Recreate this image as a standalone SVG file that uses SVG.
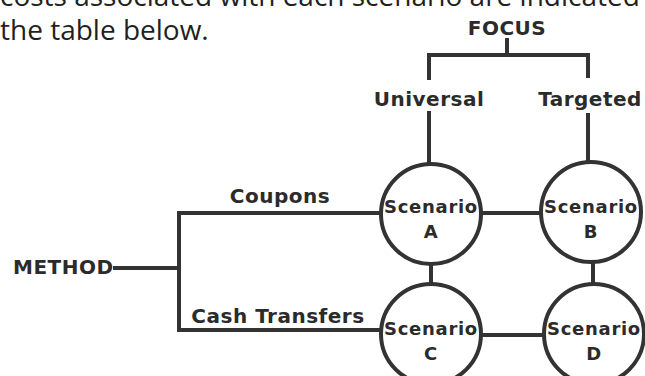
<svg xmlns="http://www.w3.org/2000/svg" width="645" height="376" viewBox="0 0 645 376">
<style>
.body{font-family:"Open Sans","Liberation Sans",sans-serif;font-size:28px;fill:#231f20}
.lbl{font-family:"DejaVu Sans","Liberation Sans",sans-serif;font-weight:bold;font-size:20px;letter-spacing:0.5px;fill:#2b2b2b}
.sc{font-family:"DejaVu Sans","Liberation Sans",sans-serif;font-weight:bold;font-size:18px;letter-spacing:0.7px;fill:#2b2b2b;text-anchor:middle}
.ln{fill:none;stroke:#333333;stroke-width:4;stroke-linecap:butt;stroke-linejoin:miter}
.c{fill:#ffffff;stroke:#333333;stroke-width:4}
</style>
<rect width="645" height="376" fill="#ffffff"/>
<text class="body" x="0" y="6">costs associated with each scenario are indicated</text>
<text class="body" x="0" y="40">the table below.</text>
<g id="connectors">
<polyline class="ln" points="429,80 429,55 588,55 588,78"/>
<line class="ln" x1="507" y1="38" x2="507" y2="55"/>
<line class="ln" x1="429" y1="111" x2="429" y2="164"/>
<line class="ln" x1="588" y1="113" x2="588" y2="162"/>
<line class="ln" x1="113" y1="268" x2="179" y2="268"/>
<polyline class="ln" points="380,213 179,213 179,330 380,330"/>
<line class="ln" x1="481" y1="213" x2="541" y2="213"/>
<line class="ln" x1="481" y1="335" x2="544" y2="335"/>
<line class="ln" x1="431" y1="263" x2="431" y2="284"/>
<line class="ln" x1="593" y1="262" x2="593" y2="284"/>
</g>
<g id="focus"><text class="lbl" x="507" y="35" text-anchor="middle">FOCUS</text></g>
<g id="universal"><text class="lbl" x="429" y="106" text-anchor="middle">Universal</text></g>
<g id="targeted"><text class="lbl" x="590" y="106" text-anchor="middle">Targeted</text></g>
<g id="method"><text class="lbl" x="13" y="274">METHOD</text></g>
<g id="coupons"><text class="lbl" x="280" y="203" text-anchor="middle">Coupons</text></g>
<g id="cash"><text class="lbl" x="278" y="323" text-anchor="middle">Cash Transfers</text></g>
<g id="scenarioA"><circle class="c" cx="431" cy="214" r="50"/><text class="sc" x="431" y="213">Scenario</text><text class="sc" x="431" y="238">A</text></g>
<g id="scenarioB"><circle class="c" cx="591" cy="212" r="50"/><text class="sc" x="591" y="213">Scenario</text><text class="sc" x="591" y="238">B</text></g>
<g id="scenarioC"><circle class="c" cx="431" cy="334" r="50"/><text class="sc" x="431" y="335">Scenario</text><text class="sc" x="431" y="360">C</text></g>
<g id="scenarioD"><circle class="c" cx="594" cy="334" r="50"/><text class="sc" x="594" y="335">Scenario</text><text class="sc" x="594" y="360">D</text></g>
</svg>
